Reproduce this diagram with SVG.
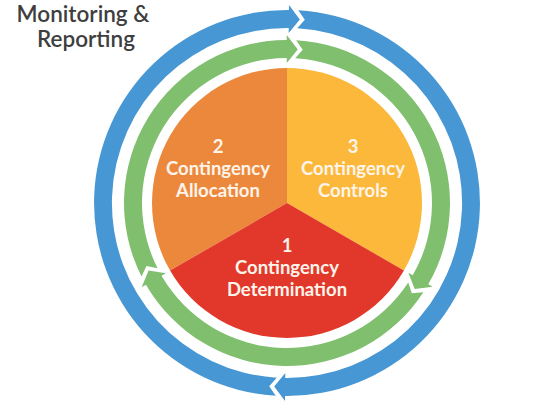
<svg xmlns="http://www.w3.org/2000/svg" xmlns:xlink="http://www.w3.org/1999/xlink" width="559" height="410" viewBox="0 0 559 410">
<style>
.lbl{font-family:Lato,"Open Sans","Liberation Sans",sans-serif;font-weight:700;font-size:18.5px;fill:#FFF4EA;text-anchor:middle}
.title{font-family:Lato,"Open Sans","Liberation Sans",sans-serif;font-weight:600;font-size:22.5px;fill:#3E3E3E;text-anchor:middle}
.blue{fill:#4697D3}
.green{fill:#7FBF6E}
</style>
<defs>
<path id="gseg" d="M-83.39,-140.05 A163,163 0 0 1 162.58,-11.63 L167.57,-11.99 L154,0 L139.64,-9.99 L144.63,-10.35 A145,145 0 0 0 -74.18,-124.58 L-72.63,-135.80 Z"/>
<path id="bseg" d="M-192.99,2.17 A193,193 0 0 1 192.65,-11.53 L197.65,-11.83 L184,0 L169.70,-10.16 L174.69,-10.46 A175,175 0 0 0 -174.99,1.97 L-183.93,-5.00 Z"/>
</defs>
<rect width="559" height="410" fill="#FFFFFF"/>
<g id="connectors" transform="translate(287,203)">
<use xlink:href="#bseg" class="blue" transform="rotate(274)"/>
<use xlink:href="#bseg" class="blue" transform="rotate(94)"/>
<use xlink:href="#gseg" class="green" transform="rotate(274)"/>
<use xlink:href="#gseg" class="green" transform="rotate(34)"/>
<use xlink:href="#gseg" class="green" transform="rotate(154)"/>
</g>
<g id="allocation">
<path d="M287,203 L170.09,270.5 A135,135 0 0 1 287,68 Z" fill="#EC883C"/>
<text class="lbl" x="218" y="153">2</text>
<text class="lbl" x="218" y="175">Contingency</text>
<text class="lbl" x="218" y="197">Allocation</text>
</g>
<g id="controls">
<path d="M287,203 L287,68 A135,135 0 0 1 403.91,270.5 Z" fill="#FBB83A"/>
<text class="lbl" x="353" y="153">3</text>
<text class="lbl" x="353" y="175">Contingency</text>
<text class="lbl" x="353" y="197">Controls</text>
</g>
<g id="determination">
<path d="M287,203 L403.91,270.5 A135,135 0 0 1 170.09,270.5 Z" fill="#E1382B"/>
<text class="lbl" x="287" y="252">1</text>
<text class="lbl" x="287" y="274">Contingency</text>
<text class="lbl" x="287" y="296">Determination</text>
</g>
<g id="monitoring">
<text class="title" x="83" y="22">Monitoring &amp;</text>
<text class="title" x="86" y="47">Reporting</text>
</g>
</svg>
